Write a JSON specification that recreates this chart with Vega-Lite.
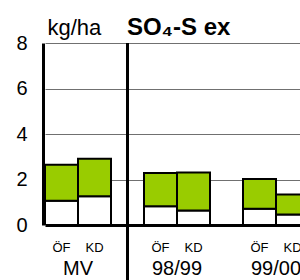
{
  "$schema": "https://vega.github.io/schema/vega-lite/v6.json",
  "width": 257,
  "height": 182,
  "autosize": {"type": "none"},
  "padding": {"left": 43, "top": 43, "right": 0, "bottom": 55},
  "config": {
    "view": {"stroke": null},
    "font": "Liberation Sans",
    "axisY": {
      "values": [0, 2, 4, 6, 8],
      "ticks": false,
      "domainColor": "black",
      "domainWidth": 3,
      "gridColor": "#707070",
      "gridWidth": 1,
      "labelFontSize": 20,
      "labelColor": "black",
      "labelPadding": 16,
      "titleAngle": 0,
      "titleX": 4,
      "titleY": -9,
      "titleAlign": "left",
      "titleBaseline": "alphabetic",
      "titleFontWeight": "normal",
      "titleFontSize": 22,
      "titleColor": "black"
    }
  },
  "title": {
    "text": "SO₄-S ex",
    "anchor": "start",
    "dx": 111,
    "dy": 53,
    "offset": 10,
    "baseline": "alphabetic",
    "fontSize": 24,
    "fontWeight": "bold",
    "color": "black"
  },
  "data": {
    "values": [
      {"slot": "MV|ÖF", "low": 1.07, "total": 2.65},
      {"slot": "MV|KD", "low": 1.26, "total": 2.91},
      {"slot": "98/99|ÖF", "low": 0.82, "total": 2.29},
      {"slot": "98/99|KD", "low": 0.64, "total": 2.31},
      {"slot": "99/00|ÖF", "low": 0.71, "total": 2.02},
      {"slot": "99/00|KD", "low": 0.46, "total": 1.34}
    ]
  },
  "layer": [
    {
      "mark": {"type": "bar", "fill": "white", "stroke": "black", "strokeWidth": 2, "clip": true},
      "encoding": {
        "x": {
          "field": "slot",
          "type": "nominal",
          "sort": null,
          "title": null,
          "scale": {
            "domain": ["MV|ÖF", "MV|KD", "g1", "98/99|ÖF", "98/99|KD", "g2", "99/00|ÖF", "99/00|KD"],
            "range": [2, 266],
            "paddingInner": 0,
            "paddingOuter": 0
          },
          "axis": {
            "orient": "bottom",
            "labelExpr": "test(/\\|/, datum.value) ? replace(datum.value, /^.*\\|/, '') : ''",
            "labelAngle": 0,
            "ticks": false,
            "domainColor": "black",
            "domainWidth": 3,
            "labelFontSize": 13,
            "labelColor": "black",
            "labelPadding": 16,
            "zindex": 1
          }
        },
        "y": {
          "field": "low",
          "type": "quantitative",
          "title": "kg/ha",
          "scale": {"domain": [0, 8]}
        }
      }
    },
    {
      "mark": {"type": "bar", "fill": "#99cc00", "stroke": "black", "strokeWidth": 2, "clip": true},
      "encoding": {
        "x": {
          "field": "slot",
          "type": "nominal",
          "sort": null,
          "title": null,
          "axis": {
            "orient": "bottom",
            "labelOffset": -16.5,
            "labelExpr": "datum.value == 'MV|KD' ? 'MV' : datum.value == '98/99|KD' ? '98/99' : datum.value == '99/00|KD' ? '99/00' : ''",
            "labelAngle": 0,
            "ticks": false,
            "domain": false,
            "labelFontSize": 20,
            "labelColor": "black",
            "labelPadding": 33,
            "labelOverlap": false,
            "labelFlush": false
          }
        },
        "y": {"field": "low", "type": "quantitative", "title": "kg/ha", "scale": {"domain": [0, 8]}},
        "y2": {"field": "total"}
      }
    },
    {
      "data": {"values": [{"slot": "g1", "top": 8, "bottom": -2.5}]},
      "mark": {"type": "rule", "color": "black", "strokeWidth": 3},
      "encoding": {
        "x": {"field": "slot", "type": "nominal", "sort": null, "axis": null},
        "y": {"field": "top", "type": "quantitative", "title": "kg/ha", "scale": {"domain": [0, 8]}},
        "y2": {"field": "bottom"}
      }
    }
  ],
  "resolve": {"axis": {"x": "independent"}}
}
